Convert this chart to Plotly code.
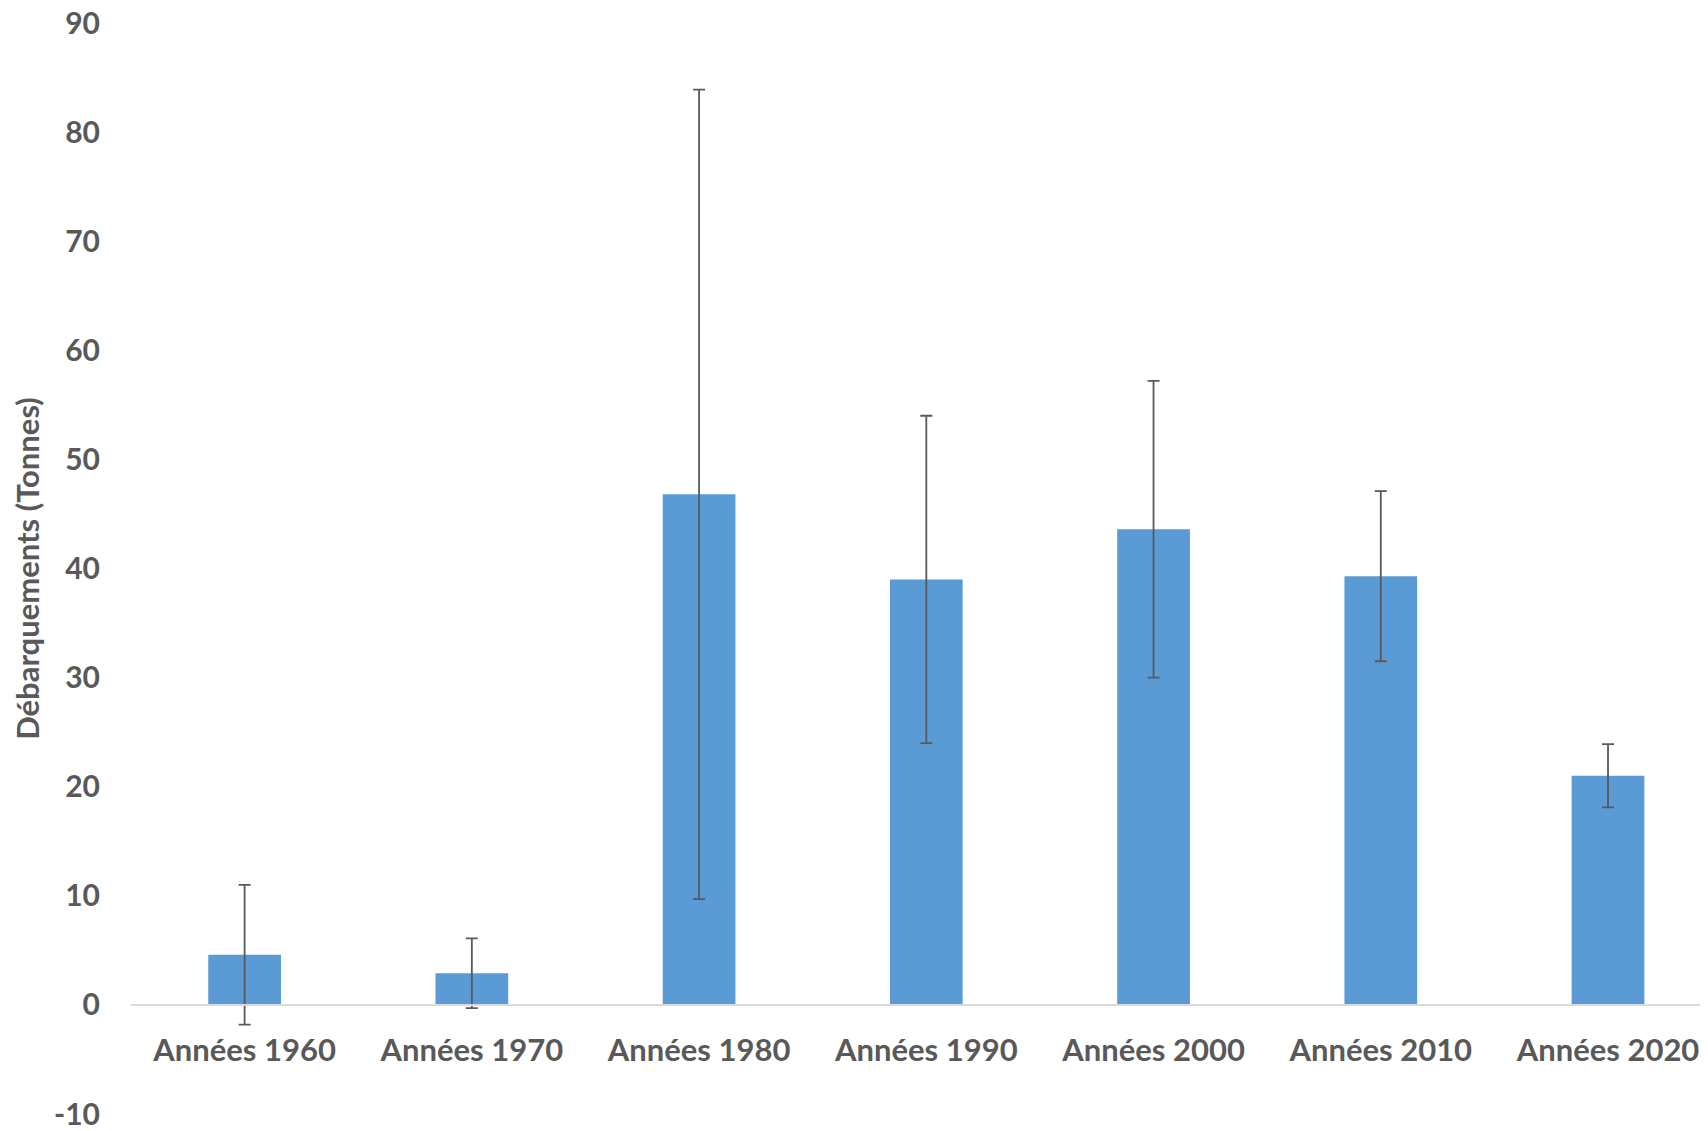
import plotly.graph_objects as go

categories = ["Années 1960", "Années 1970", "Années 1980", "Années 1990",
              "Années 2000", "Années 2010", "Années 2020"]
landings = [4.6, 2.9, 46.8, 39.0, 43.6, 39.3, 21.0]
errors = [6.4, 3.2, 37.1, 15.0, 13.6, 7.8, 2.9]
y_ticks = [-10, 0, 10, 20, 30, 40, 50, 60, 70, 80, 90]
y_tick_labels = ["-10", "0", "10", "20", "30", "40", "50", "60", "70", "80", "90"]

FONT = "Lato"
GREY = "#595959"

fig = go.Figure()
fig.add_trace(go.Bar(
    x=categories,
    y=landings,
    width=0.32,
    marker=dict(color="#5B9BD5", line=dict(width=0)),
    error_y=dict(type="data", array=errors, visible=True,
                 color=GREY, thickness=1.8, width=6),
))

fig.update_layout(
    width=1708, height=1131,
    margin=dict(l=123, r=8, t=15, b=25),
    paper_bgcolor="white", plot_bgcolor="white",
    showlegend=False,
    font=dict(family=FONT, color=GREY),
    xaxis=dict(
        range=[-0.5, 6.44],
        anchor="free", position=0.1,
        automargin=False,
        showline=True, linecolor="#D9D9D9", linewidth=2,
        showgrid=False, zeroline=False,
        ticks="", ticklabelstandoff=18,
        tickfont=dict(family=FONT, size=31, color=GREY, weight="bold"),
    ),
    yaxis=dict(
        range=[-10, 90],
        tickvals=y_ticks,
        ticktext=y_tick_labels,
        ticklabeloverflow="allow",
        automargin=False,
        showgrid=False, zeroline=False, showline=False,
        ticks="", ticklabelstandoff=30,
        tickfont=dict(family=FONT, size=30, color=GREY, weight="bold"),
        title=dict(text="Débarquements (Tonnes)", standoff=12,
                   font=dict(family=FONT, size=31, color=GREY, weight="bold")),
    ),
)

fig.write_html("out.html")
